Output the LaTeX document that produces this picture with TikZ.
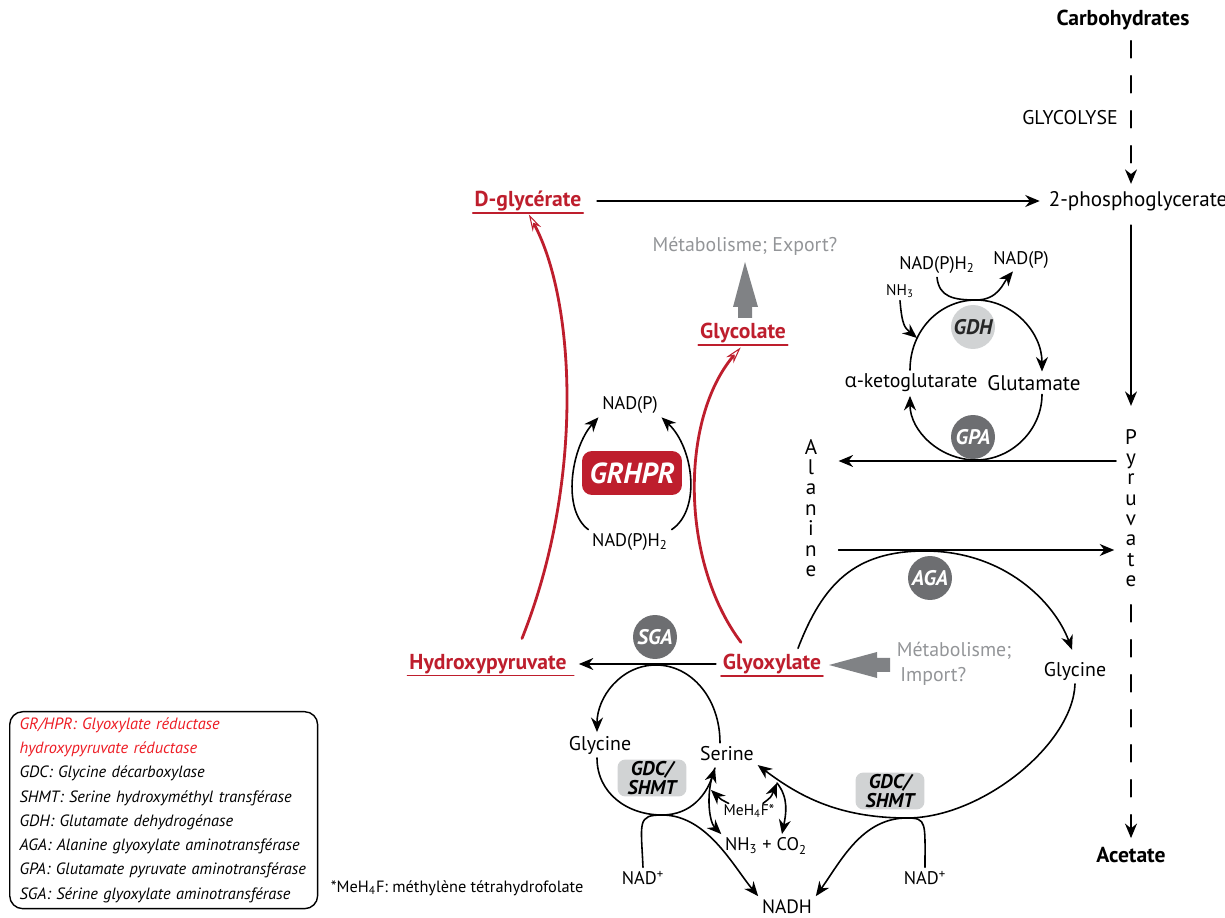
\documentclass[tikz,border=0pt]{standalone}
\usepackage{fontspec}
\setmainfont{PT Sans}
\newfontfamily\grkfont{Open Sans}
\usetikzlibrary{arrows.meta,calc}

\definecolor{crim}{HTML}{BE1E2D}
\definecolor{legred}{HTML}{ED1C24}
\definecolor{txtgray}{HTML}{939598}
\definecolor{arrgray}{HTML}{808285}
\definecolor{enzdark}{HTML}{6D6E71}
\definecolor{enzlight}{HTML}{D1D3D4}

\begin{document}
\begin{tikzpicture}[x=0.02cm,y=-0.02cm,>={Stealth[length=2.9mm,width=2.4mm]},line cap=round,line join=round,
  lbl/.style={font=\fontsize{11.3}{13}\selectfont,inner sep=2pt},
  sml/.style={font=\fontsize{10.4}{12}\selectfont,inner sep=2pt},
  smll/.style={font=\fontsize{8.8}{10}\selectfont,inner sep=1.5pt},
  met/.style={font=\bfseries\fontsize{12.3}{14}\selectfont,text=crim,inner sep=0.8pt},
  vert/.style={font=\fontsize{12}{11.6}\selectfont,align=center,inner sep=1pt},
  enz/.style={circle,minimum size=0.88cm,inner sep=0pt,font=\bfseries\itshape\fontsize{12}{14}\selectfont},
  enzd/.style={enz,fill=enzdark,text=white},
  enzl/.style={enz,fill=enzlight,text=black!85},
  gdcbox/.style={rounded corners=1.6mm,fill=enzlight,minimum width=1.38cm,minimum height=0.74cm,inner sep=0pt,align=center,font=\bfseries\itshape\fontsize{11.3}{10.4}\selectfont},
  grhprbox/.style={fill=crim,text=white,rounded corners=2mm,minimum width=2cm,minimum height=0.88cm,font=\bfseries\itshape\fontsize{16.5}{18}\selectfont},
  legbox/.style={draw,line width=0.8pt,rounded corners=2.6mm,minimum width=6.16cm,minimum height=3.94cm,text width=5.76cm,inner xsep=2mm,align=left,font=\itshape\fontsize{9.3}{13.8}\selectfont},
  lnk/.style={line width=0.9pt},
  dash line/.style={lnk,dash pattern=on 3.4mm off 3.6mm},
  redarr/.style={crim,line width=1.6pt,-{Stealth[open,length=3.4mm,width=1.9mm,line width=0.6pt]}},
  ulin/.style={crim,line width=1.1pt}]
\useasboundingbox (0,0) rectangle (1225,918);

\node[lbl,font=\bfseries\fontsize{12.3}{14}\selectfont] (carb) at (1123,20) {Carbohydrates};
\node[lbl] (glyco) at (1070,118) {GLYCOLYSE};
\node[lbl,anchor=west,font=\fontsize{12}{14}\selectfont] (pg) at (1045,201) {2-phosphoglycerate};
\node[met] (dgly) at (528,201) {D-glycérate};
\node[lbl,text=txtgray] (export) at (745,246) {Métabolisme; Export?};
\node[met] (glycol) at (743,333) {Glycolate};
\node[sml] (nadph2) at (937,265) {NAD(P)H\textsubscript{2}};
\node[sml] (nadp2) at (1021,260) {NAD(P)};
\node[smll] (nh3) at (900,291) {NH\textsubscript{3}};
\node[enzl] (gdh) at (973,327) {GDH};
\node[lbl] (akg) at (911,383) {{\grkfont α}-ketoglutarate};
\node[lbl,font=\fontsize{12}{14}\selectfont] (glu) at (1034,383) {Glutamate};
\node[enzd] (gpa) at (973,437) {GPA};
\node[vert] (pyr) at (1131,508) {P\\y\\r\\u\\v\\a\\t\\e};
\node[vert] (ala) at (811,508) {A\\l\\a\\n\\i\\n\\e};
\node[lbl,font=\bfseries\fontsize{12.3}{14}\selectfont] (acet) at (1131,855) {Acetate};
\node[enzd] (aga) at (930,578) {AGA};
\node[lbl] (glyR) at (1075,671) {Glycine};
\node[lbl,text=txtgray,align=left,anchor=west,font=\fontsize{11.3}{14}\selectfont] (import) at (893,664) {Métabolisme;\\\hspace{2pt}Import?};
\node[met] (glyox) at (772,664) {Glyoxylate};
\node[met] (hydro) at (488,664) {Hydroxypyruvate};
\node[enzd] (sga) at (655,637) {SGA};
\node[lbl] (glyL) at (600,745) {Glycine};
\node[lbl] (ser) at (727,754) {Serine};
\node[gdcbox] (gdcL) at (652,778) {GDC/\\SHMT};
\node[gdcbox] (gdcR) at (890,791) {GDC/\\SHMT};
\node[smll] (meh) at (749,811) {MeH\textsubscript{4}F*};
\node[sml] (nhco) at (766,846) {NH\textsubscript{3} + CO\textsubscript{2}};
\node[sml] (nadL) at (643,878) {NAD\textsuperscript{+}};
\node[sml] (nadR) at (925,878) {NAD\textsuperscript{+}};
\node[sml,font=\fontsize{11}{12}\selectfont] (nadh) at (787,907) {NADH};
\node[grhprbox] (grhpr) at (632,473) {GRHPR};
\node[sml] (nadp1) at (630,405) {NAD(P)};
\node[sml] (nadph1) at (630,542) {NAD(P)H\textsubscript{2}};
\node[legbox,anchor=north west] (leg) at (9,711) {\textcolor{legred}{GR/HPR: Glyoxylate réductase}\\
  \textcolor{legred}{hydroxypyruvate réductase}\\
  GDC: Glycine décarboxylase\\
  SHMT: Serine hydroxyméthyl transférase\\
  GDH: Glutamate dehydrogénase\\
  AGA: Alanine glyoxylate aminotransférase\\
  GPA: Glutamate pyruvate aminotransférase\\
  SGA: Sérine glyoxylate aminotransférase};
\node[smll,anchor=west,font=\fontsize{9.3}{10}\selectfont] (note) at (328,888) {*MeH\textsubscript{4}F: méthylène tétrahydrofolate};

\coordinate (r1) at (0,461);
\coordinate (r2) at (0,550);
\coordinate (gtop) at (976,300);
\coordinate (gbot) at (976,460);
\coordinate (gL) at (910,0);
\coordinate (gR) at (1042,0);
\coordinate (gnh) at (917,338);
\coordinate (stop) at (656,665);
\coordinate (sbot) at (662,815);
\coordinate (sL) at (597,0);
\coordinate (sR) at (720,0);
\coordinate (atop) at (925,551);
\coordinate (abot) at (907,818);
\coordinate (mjl) at (715,768);
\coordinate (mjn) at (711,790);
\coordinate (mj) at (777,783);

\draw[dash line,->,shorten <=4pt,shorten >=2pt] (carb.south -| pyr) -- (pg.north -| pyr);
\draw[lnk,->,shorten <=6pt,shorten >=12pt] (pg.south -| pyr) -- (pyr.north);
\draw[dash line,->,shorten <=9pt,shorten >=3pt] (pyr.south) -- (acet.north);
\draw[lnk,->,shorten <=8pt,shorten >=3pt] (dgly.east) -- (pg.west);
\draw[lnk,->,shorten <=4pt,shorten >=11pt] (pyr.west |- r1) -- (ala.east |- r1);
\draw[lnk,->,shorten <=11pt,shorten >=5pt] (ala.east |- r2) -- (pyr.west |- r2);

\draw[lnk,->] (akg.north -| gL) .. controls +(0,-40) and +(-36,0) .. (gtop) .. controls +(36,0) and +(0,-40) .. (glu.north -| gR);
\draw[lnk,->] (glu.south -| gR) .. controls +(0,35) and +(36,0) .. (gbot) .. controls +(-36,0) and +(0,35) .. (akg.south -| gL);
\draw[lnk,->] (nh3.south) .. controls +(2,25) and +(-12,-10) .. (gnh);
\draw[lnk,->] (nadph2.south) .. controls +(2,20) and +(-22,0) .. (gtop) .. controls +(22,0) and +(-10,12) .. ($(nadp2.south)+(-8,-1)$);

\draw[lnk,->] (nadph1.north west) .. controls +(-27,-20) and +(-27,30) .. (nadp1.south west);
\draw[lnk,->] (nadph1.north east) .. controls +(30,-20) and +(32,30) .. (nadp1.south east);

\draw[redarr,shorten >=1pt] ($(hydro.north)+(34,-14)$) .. controls +(63,-158) and +(47,87) .. (dgly.south);
\draw[redarr,shorten >=2pt] ($(glyox.north)+(-31,-10)$) .. controls +(-61,-81) and +(-63,74) .. (glycol.south);

\draw[ulin] (dgly.south west) -- (dgly.south east);
\draw[ulin] (glycol.south west) -- (glycol.south east);
\draw[ulin] (glyox.south west) -- (glyox.south east);
\draw[ulin] (hydro.south west) -- ([xshift=3pt]hydro.south east);

\fill[arrgray] (738,318) -- (738,307) -- (733,307) -- (745,262) -- (758,307) -- (752,307) -- (752,318) -- cycle;
\fill[arrgray] (890,658) -- (877,658) -- (877,652) -- (829,665) -- (877,678) -- (877,672) -- (890,672) -- cycle;

\draw[lnk,->,shorten <=3pt,shorten >=6pt] (glyox.west) -- (hydro.east);
\draw[lnk,->] (ser.north -| sR) .. controls +(0,-45) and +(35,0) .. (stop) .. controls +(-35,0) and +(0,-35) .. (glyL.north -| sL);
\draw[lnk,->] (glyL.south -| sL) .. controls +(0,35) and +(-35,0) .. (sbot) .. controls +(30,0) and +(-8,25) .. (mjl);
\draw[lnk,->] (mjl) .. controls +(-10,25) and +(-12,-12) .. (nhco.north west);
\draw[lnk,->] ($(meh.north west)+(8,2)$) .. controls +(-8,-4) .. (mjn);
\draw[lnk,->] ($(meh.north)+(14,2)$) .. controls +(8,-6) .. (mj);
\draw[lnk,->] (mj) .. controls +(12,15) and +(4,-20) .. ($(nhco.north)+(16,0)$);

\draw[lnk,->,shorten >=5pt] ($(glyox.north)+(26,-4)$) .. controls +(25,-65) and +(-70,0) .. (atop) .. controls +(80,0) and +(-20,-55) .. (glyR.north);
\draw[lnk,->] (glyR.south) .. controls +(-2,60) and +(75,0) .. (abot) .. controls +(-70,0) and +(40,30) .. (ser.south east);
\draw[lnk,->] (nadL.north) .. controls +(-2,-45) and +(-25,0) .. (sbot) .. controls +(45,0) and +(-25,-30) .. (nadh.north west);
\draw[lnk,->] (nadR.north) .. controls +(0,-45) and +(20,0) .. (abot) .. controls +(-45,0) and +(25,-35) .. (nadh.north east);
\end{tikzpicture}
\end{document}
